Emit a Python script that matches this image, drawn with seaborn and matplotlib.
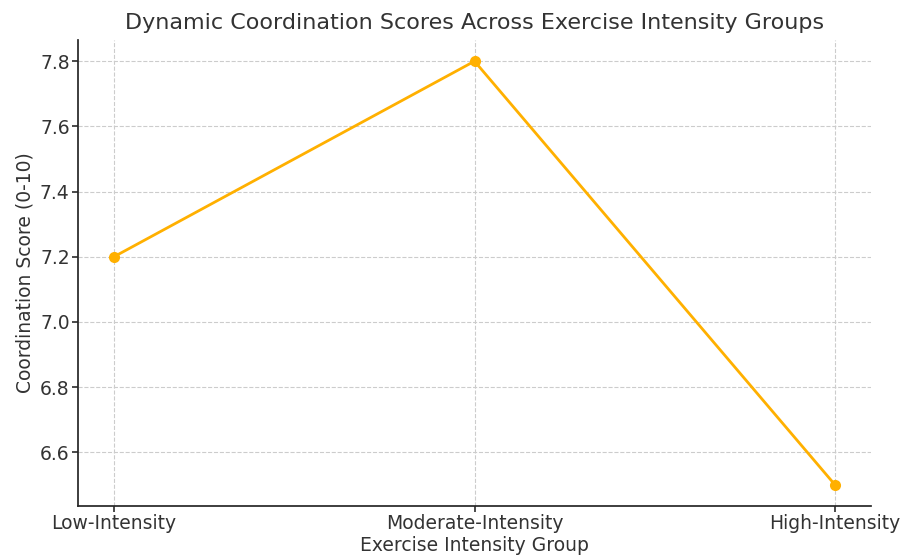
import matplotlib
matplotlib.use("Agg")
import matplotlib.pyplot as plt
import seaborn as sns
import pandas as pd

groups = ["Low-Intensity", "Moderate-Intensity", "High-Intensity"]
scores = [7.2, 7.8, 6.5]

df = pd.DataFrame({"group": groups, "score": scores})

sns.set_theme(style="ticks")
plt.rcParams["font.family"] = ["DejaVu Sans"]
plt.rcParams["text.color"] = "#333333"
plt.rcParams["axes.labelcolor"] = "#333333"
plt.rcParams["xtick.color"] = "#333333"
plt.rcParams["ytick.color"] = "#333333"

fig = plt.figure(figsize=(9.14, 5.59), dpi=100)
ax = fig.add_axes([0.0853, 0.0948, 0.8677, 0.8336])

sns.lineplot(data=df, x="group", y="score", marker="o", color="#FFB000",
             linewidth=2, markersize=8, markeredgewidth=0, ax=ax, sort=False)

ax.set_title("Dynamic Coordination Scores Across Exercise Intensity Groups",
             fontsize=16, pad=8)
ax.set_xlabel("Exercise Intensity Group", fontsize=13.5, labelpad=2)
ax.set_ylabel("Coordination Score (0-10)", fontsize=13.5, labelpad=4)
ax.tick_params(labelsize=13.5, length=4, pad=2)
ax.grid(True, linestyle="--", color="#cccccc", linewidth=0.8)
ax.set_yticks([6.6, 6.8, 7.0, 7.2, 7.4, 7.6, 7.8])
sns.despine(ax=ax)

fig.savefig("out.png", dpi=100)
